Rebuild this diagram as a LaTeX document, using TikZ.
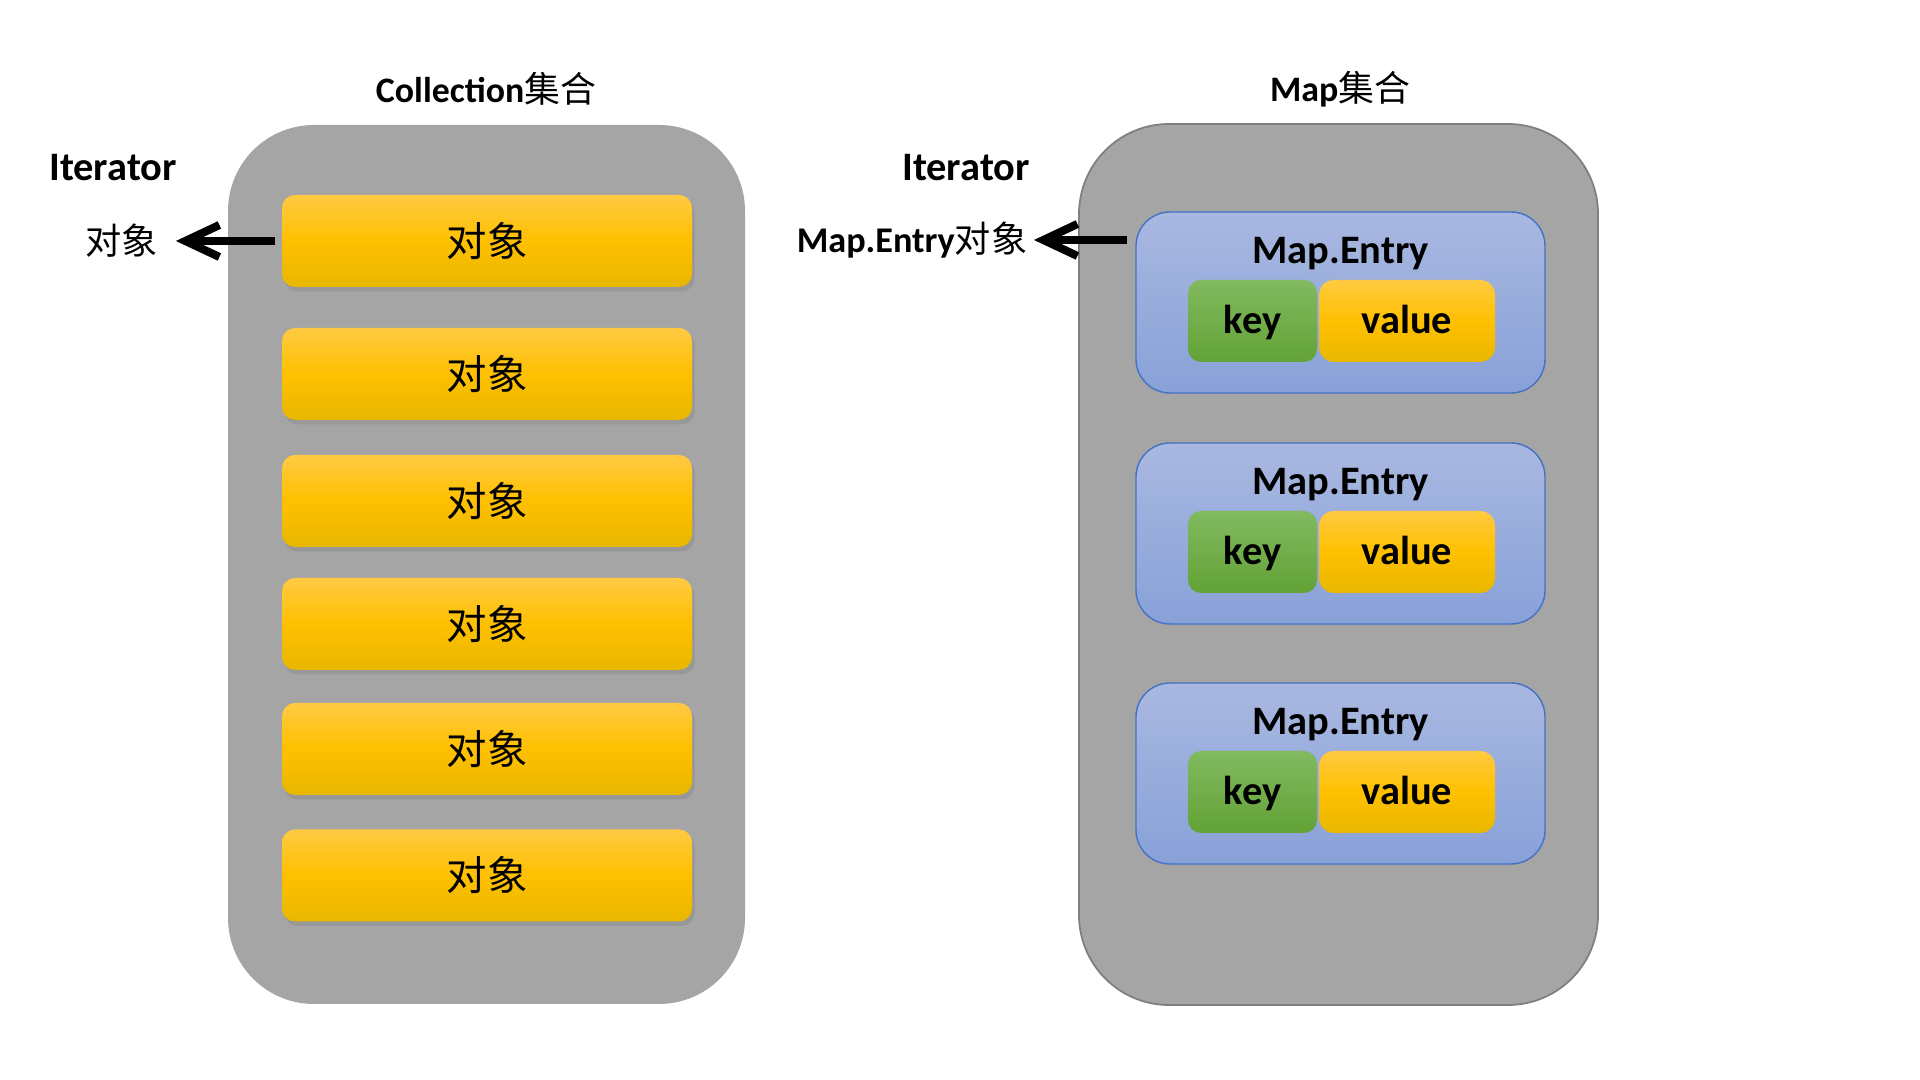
\documentclass[tikz,border=0pt]{standalone}
\usepackage{fontspec}
\setmainfont{Carlito}
\newfontfamily\cjk{Noto Sans CJK SC}
\usepackage{xcolor}
\usepackage{tikz}
\usetikzlibrary{positioning, shadows, arrows.meta, calc}

\definecolor{shellGray}{HTML}{A5A5A5}
\definecolor{rimGray}{HTML}{7F7F7F}
\definecolor{goldTop}{HTML}{FFCA42}
\definecolor{goldMid}{HTML}{FFC000}
\definecolor{goldBot}{HTML}{E8B700}
\definecolor{leafTop}{HTML}{82BA60}
\definecolor{leafBot}{HTML}{62A236}
\definecolor{skyTop}{HTML}{A9B8E0}
\definecolor{skyBot}{HTML}{88A1D8}
\definecolor{skyRim}{HTML}{4472C4}

\begin{document}
\begin{tikzpicture}[
    objbox/.style={rounded corners=1.3mm, minimum width=4.1cm, minimum height=0.92cm, outer sep=0pt,
        top color=goldTop, bottom color=goldBot, middle color=goldMid,
        drop shadow={shadow xshift=0.25mm, shadow yshift=-0.45mm, opacity=0.35},
        font=\fontsize{11.5}{13}\selectfont\cjk},
    entrybox/.style={draw=skyRim, line width=0.4pt, rounded corners=3.4mm, minimum width=4.09cm, minimum height=1.81cm,
        outer sep=0pt, top color=skyTop, bottom color=skyBot},
    keybox/.style={rounded corners=1.3mm, minimum width=1.29cm, minimum height=0.82cm, outer sep=0pt,
        text height=1.95ex, text depth=0.45ex,
        top color=leafTop, bottom color=leafBot, font=\fontsize{11.5}{13}\selectfont\bfseries},
    valbox/.style={rounded corners=1.5mm, minimum width=1.76cm, minimum height=0.82cm, outer sep=0pt,
        text height=1.95ex, text depth=0.45ex,
        top color=goldTop, bottom color=goldBot, middle color=goldMid, font=\fontsize{11.5}{13}\selectfont\bfseries},
    entrytitle/.style={inner sep=0pt, font=\fontsize{11.5}{13}\selectfont\bfseries},
    itertitle/.style={inner sep=0pt, font=\fontsize{11.5}{13}\selectfont\bfseries},
    headline/.style={inner sep=0pt, font=\fontsize{10.2}{12}\selectfont\bfseries},
    sidelabel/.style={inner sep=0pt, font=\fontsize{10.3}{12}\selectfont},
    iterarrow/.style={line width=2.3pt, -{Straight Barb[length=3.4mm, width=3.2mm]}}
]
    \useasboundingbox (0,0) rectangle (19.2,10.8);

    % the two containers
    \fill[shellGray, rounded corners=8.6mm] (2.28,0.76) rectangle (7.45,9.55);
    \draw[rimGray, line width=0.5pt, fill=shellGray, rounded corners=9mm] (10.79,0.75) rectangle (15.98,9.56);

    \node[headline] (colTitle) at (4.86,9.91) {Collection{\cjk\mdseries 集合}};
    \node[headline] (mapTitle) at (13.40,9.91) {Map{\cjk\mdseries 集合}};

    % Collection side
    \node[objbox] (obj1) at (4.87,8.39) {对象};
    \node[objbox] (obj2) at (4.87,7.06) {对象};
    \node[objbox] (obj3) at (4.87,5.79) {对象};
    \node[objbox] (obj4) at (4.87,4.56) {对象};
    \node[objbox] (obj5) at (4.87,3.31) {对象};
    \node[objbox] (obj6) at (4.87,2.045) {对象};

    \node[itertitle] (iterL) at (1.13,9.12) {Iterator};
    \node[sidelabel] (objL) at (1.22,8.39) {\cjk 对象};
    \draw[iterarrow, shorten <=0.7mm, shorten >=1.7mm] (obj1.west) -- (objL.east);

    % Map side
    \node[entrybox] (entry1) at (13.405,7.775) {};
    \node[entrytitle] at ([yshift=4.85mm]entry1.center) {Map.Entry};
    \node[keybox] (key1) at ([shift={(-0.88,-0.185)}]entry1.center) {key};
    \node[valbox, right=0.2mm of key1] (val1) {value};

    \node[entrybox] (entry2) at (13.405,5.465) {};
    \node[entrytitle] at ([yshift=4.85mm]entry2.center) {Map.Entry};
    \node[keybox] (key2) at ([shift={(-0.88,-0.185)}]entry2.center) {key};
    \node[valbox, right=0.2mm of key2] (val2) {value};

    \node[entrybox] (entry3) at (13.405,3.065) {};
    \node[entrytitle] at ([yshift=4.85mm]entry3.center) {Map.Entry};
    \node[keybox] (key3) at ([shift={(-0.88,-0.185)}]entry3.center) {key};
    \node[valbox, right=0.2mm of key3] (val3) {value};

    \node[itertitle] (iterR) at (9.66,9.12) {Iterator};
    \node[sidelabel] (entryL) at (9.12,8.40) {\bfseries Map.Entry{\cjk\mdseries 对象}};
    \draw[iterarrow, shorten <=0.9mm, shorten >=0.6mm] (entry1.west |- entryL.east) -- (entryL.east);
\end{tikzpicture}
\end{document}
